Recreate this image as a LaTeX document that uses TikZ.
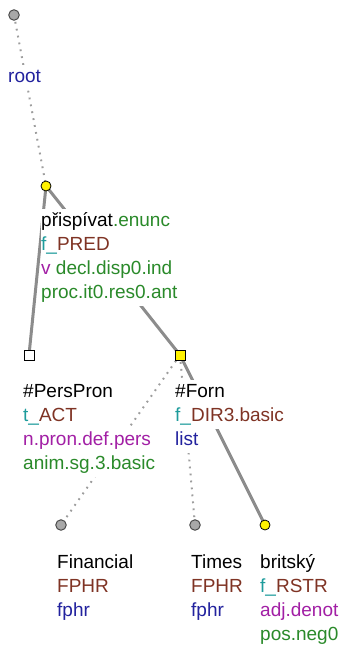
\documentclass[tikz,border=0pt]{standalone}
\usepackage{fontspec}
\setmainfont{Liberation Sans}
\definecolor{tteal}{HTML}{1E9C9C}
\definecolor{tbrown}{HTML}{7F3324}
\definecolor{tpurple}{HTML}{A21FA5}
\definecolor{tgreen}{HTML}{2A8A2A}
\definecolor{tblue}{HTML}{22229E}
\definecolor{edgegray}{HTML}{8C8C8C}
\definecolor{nodegray}{HTML}{A8A8A8}
\begin{document}
\begin{tikzpicture}[x=1pt,y=-1pt,
  lbl/.style={anchor=base west,fill=white,inner xsep=0.5pt,inner ysep=0.5pt,font=\fontsize{19}{24}\selectfont,execute at begin node=\strut},
  gcirc/.style={circle,draw=black!70,fill=nodegray,line width=1pt,minimum size=10.5pt,inner sep=0pt},
  ycirc/.style={circle,draw=black,fill=yellow,line width=0.8pt,minimum size=10pt,inner sep=0pt},
  wsq/.style={rectangle,draw=black,fill=white,line width=0.8pt,minimum size=10pt,inner sep=0pt},
  ysq/.style={rectangle,draw=black,fill=yellow,line width=0.8pt,minimum size=10pt,inner sep=0pt},
  soledge/.style={draw=edgegray,line width=3pt},
  dotedge/.style={draw=edgegray!85,line width=2pt,dash pattern=on 1.8pt off 5.2pt}]
\useasboundingbox (0,0) rectangle (342,645);
% coordinates of the tree nodes
\coordinate (c0) at (14,15);
\coordinate (c1) at (46,186);
\coordinate (c2) at (29,355);
\coordinate (c3) at (180,355);
\coordinate (c4) at (61,525);
\coordinate (c5) at (195,525);
\coordinate (c6) at (265,525);
% edges
\draw[dotedge] (c0) -- (c1);
\draw[soledge] (c1) -- (c2);
\draw[soledge] (c1) -- (c3);
\draw[dotedge] (c3) -- (c4);
\draw[dotedge] (c3) -- (c5);
\draw[soledge] (c3) -- (c6);
% labels
\node[lbl] (l0) at (7.5,82) {\textcolor{tblue}{root}};
\node[lbl] (l1a) at (40.5,226) {přispívat\textcolor{tgreen}{.enunc}};
\node[lbl] (l1b) at (40.5,250) {\textcolor{tteal}{f\_}\textcolor{tbrown}{PRED}};
\node[lbl] (l1c) at (40.5,274) {\textcolor{tpurple}{v} \textcolor{tgreen}{decl.disp0.ind}};
\node[lbl] (l1d) at (40.5,298) {\textcolor{tgreen}{proc.it0.res0.ant}};
\node[lbl] (l2a) at (22.5,397) {\#PersPron};
\node[lbl] (l2b) at (22.5,421) {\textcolor{tteal}{t\_}\textcolor{tbrown}{ACT}};
\node[lbl] (l2c) at (22.5,445) {\textcolor{tpurple}{n.pron.def.pers}};
\node[lbl] (l2d) at (22.5,469) {\textcolor{tgreen}{anim.sg.3.basic}};
\node[lbl] (l3a) at (174.5,397) {\#Forn};
\node[lbl] (l3b) at (174.5,421) {\textcolor{tteal}{f\_}\textcolor{tbrown}{DIR3.basic}};
\node[lbl] (l3c) at (174.5,445) {\textcolor{tblue}{list}};
\node[lbl] (l4a) at (56.5,568) {Financial};
\node[lbl] (l4b) at (56.5,592) {\textcolor{tbrown}{FPHR}};
\node[lbl] (l4c) at (56.5,616) {\textcolor{tblue}{fphr}};
\node[lbl] (l5a) at (190.5,568) {Times};
\node[lbl] (l5b) at (190.5,592) {\textcolor{tbrown}{FPHR}};
\node[lbl] (l5c) at (190.5,616) {\textcolor{tblue}{fphr}};
\node[lbl] (l6a) at (259.5,568) {britský};
\node[lbl] (l6b) at (259.5,592) {\textcolor{tteal}{f\_}\textcolor{tbrown}{RSTR}};
\node[lbl] (l6c) at (259.5,616) {\textcolor{tpurple}{adj.denot}};
\node[lbl] (l6d) at (259.5,640) {\textcolor{tgreen}{pos.neg0}};
% node markers
\node[gcirc] (n0) at (c0) {};
\node[ycirc] (n1) at (c1) {};
\node[wsq] (n2) at (c2) {};
\node[ysq] (n3) at (c3) {};
\node[gcirc] (n4) at (c4) {};
\node[gcirc] (n5) at (c5) {};
\node[ycirc] (n6) at (c6) {};
\end{tikzpicture}
\end{document}
